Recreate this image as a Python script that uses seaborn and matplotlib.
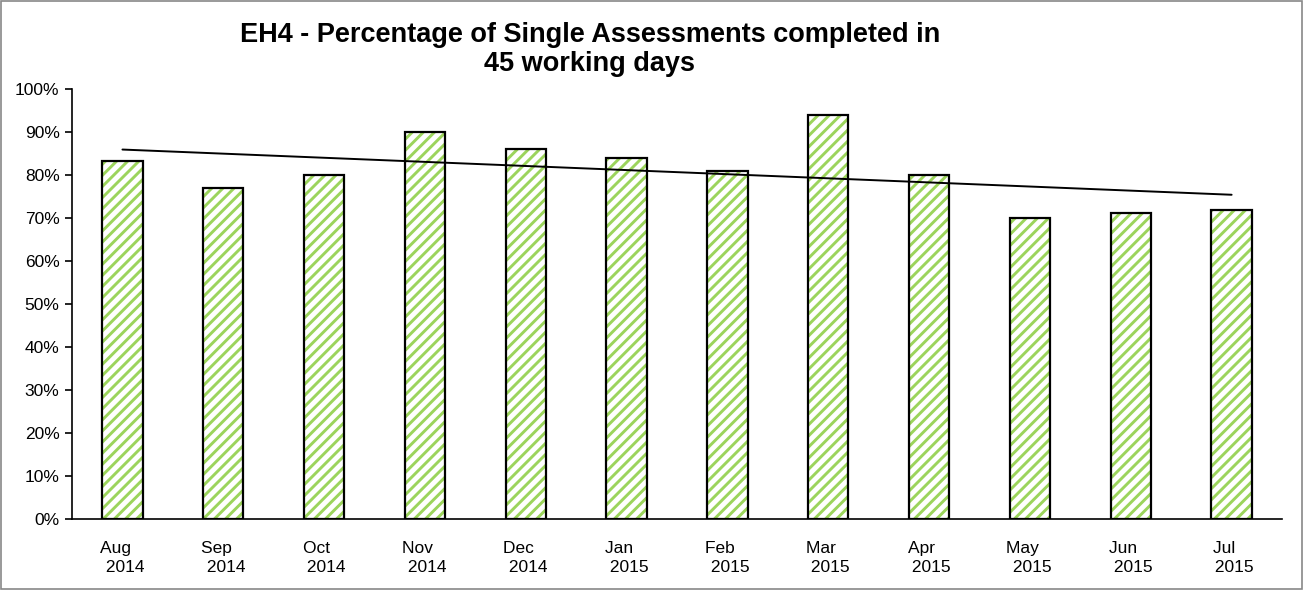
import numpy as np
import pandas as pd
import matplotlib
matplotlib.use("Agg")
import matplotlib.pyplot as plt
import seaborn as sns
from matplotlib.patches import Rectangle

months = ["Aug", "Sep", "Oct", "Nov", "Dec", "Jan", "Feb", "Mar", "Apr", "May", "Jun", "Jul"]
years = ["2014"] * 5 + ["2015"] * 7
pct_completed = [83.2, 77.0, 80.0, 90.0, 86.0, 84.0, 81.0, 94.0, 80.0, 70.0, 71.3, 72.0]
title = "EH4 - Percentage of Single Assessments completed in\n45 working days"

# Excel-style wrapped labels, second line nudged right
labels = [f"{m}   \n {y}" for m, y in zip(months, years)]
df = pd.DataFrame({"month": labels, "pct": pct_completed})

sns.set_style("white")
plt.rcParams["font.family"] = ["Liberation Sans", "DejaVu Sans"]
plt.rcParams["hatch.linewidth"] = 2.1
plt.rcParams["text.color"] = "black"
plt.rcParams["xtick.color"] = "black"
plt.rcParams["ytick.color"] = "black"

fig = plt.figure(figsize=(13.05, 5.91), dpi=100)
ax = fig.add_axes([0.0552, 0.1218, 0.9272, 0.7272])

# hatched fill
sns.barplot(data=df, x="month", y="pct", ax=ax, width=0.4, color="white",
            edgecolor="#9CD45C", linewidth=0, hatch="///")
# black outlines on top
sns.barplot(data=df, x="month", y="pct", ax=ax, width=0.4, fill=False,
            edgecolor="black", linewidth=1.6)

# linear trend line
x = np.arange(len(pct_completed))
slope, intercept = np.polyfit(x, pct_completed, 1)
ax.plot(x, slope * x + intercept, color="black", linewidth=1.4, zorder=5)

ax.set_xlim(-0.5, len(months) - 0.5)
ax.set_ylim(0, 100)
ax.set_yticks(np.arange(0, 101, 10))
ax.set_yticklabels([f"{v}%" for v in range(0, 101, 10)], fontsize=12.5)
ax.set_xticks(x)
ax.set_xticklabels(labels, fontsize=12.5, linespacing=1.35)
ax.set_xticks(np.arange(-0.5, len(months), 1), minor=True)
ax.tick_params(axis="x", which="major", length=0, pad=16)
ax.tick_params(axis="x", which="minor", length=5, width=1.2, direction="out")
ax.tick_params(axis="y", length=5, width=1.2, direction="out", left=True, pad=4)
ax.set_xlabel("")
ax.set_ylabel("")

for side in ["top", "right"]:
    ax.spines[side].set_visible(False)
for side in ["left", "bottom"]:
    ax.spines[side].set_color("black")
    ax.spines[side].set_linewidth(1.2)

fig.text(0.452, 0.962, title, ha="center", va="top", fontsize=19.5,
         fontweight="bold", linespacing=1.15)

fig.add_artist(Rectangle((0.001, 0.003), 0.997, 0.995, transform=fig.transFigure,
                         fill=False, edgecolor="#888888", linewidth=1.2))

fig.savefig("out.png", dpi=100)
